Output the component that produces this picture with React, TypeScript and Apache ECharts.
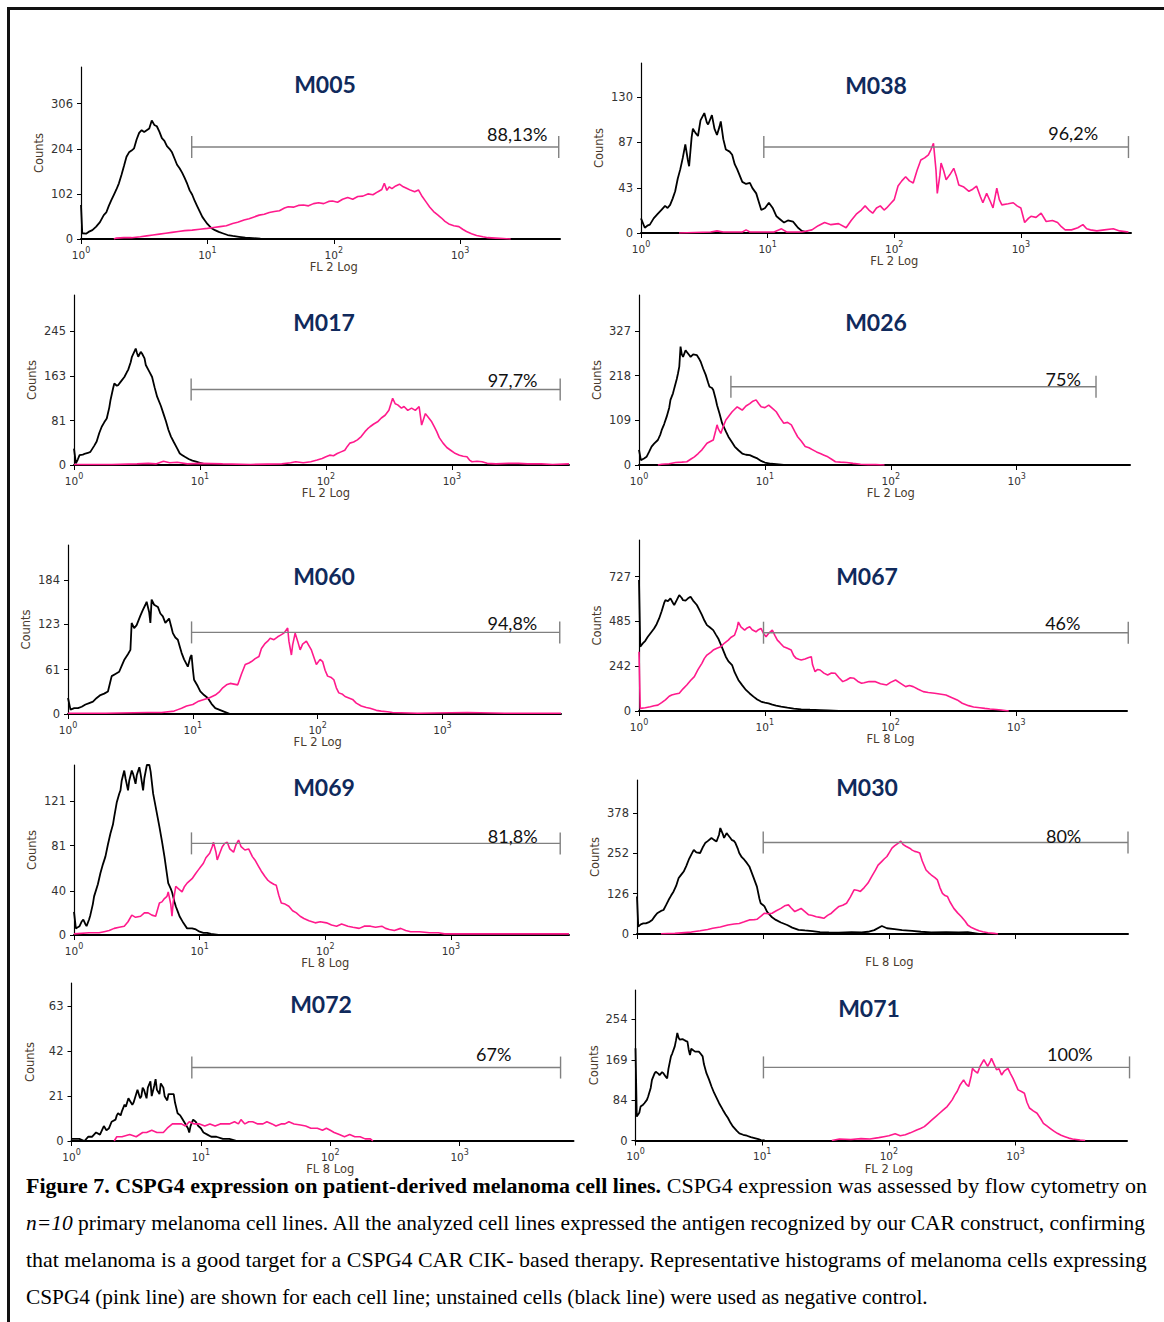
import React, { useEffect, useRef } from 'react';
import * as echarts from 'echarts';

// ---------- histogram data: [log10 fluorescence, counts] ----------
const M005_NEG = [[0,77],[0.01,13],[0.04,12],[0.06,16],[0.09,20],[0.12,28],[0.15,38],[0.18,54],[0.2,60],[0.22,75],[0.24,88],[0.26,100],[0.28,112],[0.3,126],[0.32,145],[0.34,165],[0.36,186],[0.38,196],[0.4,200],[0.42,205],[0.44,225],[0.46,240],[0.48,246],[0.5,242],[0.52,246],[0.54,250],[0.56,268],[0.58,258],[0.6,255],[0.62,243],[0.64,228],[0.66,222],[0.68,210],[0.7,204],[0.72,196],[0.74,182],[0.76,168],[0.78,160],[0.8,150],[0.82,138],[0.84,125],[0.86,110],[0.88,100],[0.9,86],[0.92,74],[0.94,62],[0.96,50],[0.98,42],[1.0,34],[1.03,25],[1.06,20],[1.09,16],[1.12,13],[1.16,9],[1.2,7],[1.25,5],[1.3,3],[1.36,2],[1.42,1],[1.5,0]];
const M005_POS = [[0.26,0],[0.28,2],[0.34,3],[0.4,3],[0.47,5],[0.52,7],[0.57,9],[0.62,11],[0.67,13],[0.72,15],[0.77,17],[0.82,19],[0.88,20],[0.94,22],[1.0,24],[1.05,26],[1.1,28],[1.15,30],[1.2,35],[1.24,38],[1.29,43],[1.33,46],[1.37,50],[1.41,54],[1.45,56],[1.49,60],[1.53,62],[1.57,64],[1.61,70],[1.64,73],[1.68,72],[1.72,76],[1.76,77],[1.8,75],[1.84,80],[1.88,82],[1.92,80],[1.96,85],[1.99,86],[2.03,83],[2.07,90],[2.11,94],[2.15,90],[2.19,96],[2.23,97],[2.27,102],[2.31,100],[2.35,107],[2.38,112],[2.4,126],[2.42,110],[2.44,118],[2.46,114],[2.49,120],[2.52,124],[2.55,118],[2.58,114],[2.61,110],[2.64,107],[2.67,111],[2.7,96],[2.73,84],[2.76,72],[2.79,62],[2.82,55],[2.85,48],[2.88,40],[2.91,34],[2.95,30],[2.99,28],[3.02,22],[3.05,17],[3.09,12],[3.13,8],[3.18,5],[3.22,3],[3.28,2],[3.34,1],[3.4,0]];
const M038_NEG = [[0,14],[0.03,5],[0.05,7],[0.07,8],[0.1,14],[0.13,18],[0.16,22],[0.19,26],[0.21,24],[0.23,27],[0.25,33],[0.27,40],[0.29,52],[0.31,61],[0.33,72],[0.35,85],[0.37,70],[0.38,64],[0.4,92],[0.41,100],[0.43,96],[0.45,93],[0.47,108],[0.5,115],[0.52,106],[0.53,104],[0.55,110],[0.56,113],[0.58,100],[0.6,94],[0.62,102],[0.63,107],[0.65,90],[0.67,80],[0.7,78],[0.72,75],[0.74,66],[0.76,61],[0.78,55],[0.8,49],[0.83,47],[0.86,48],[0.88,43],[0.91,38],[0.93,30],[0.95,22],[0.98,24],[1.01,29],[1.04,24],[1.07,16],[1.1,13],[1.13,10],[1.16,12],[1.2,11],[1.22,8],[1.24,5],[1.27,2],[1.33,0]];
const M038_POS = [[0.3,0],[0.55,1],[0.6,2],[0.65,1],[0.8,1],[0.83,3],[0.86,1],[1.05,1],[1.11,4],[1.15,1],[1.27,1],[1.35,3],[1.4,7],[1.45,10],[1.5,8],[1.56,9],[1.62,5],[1.66,12],[1.7,18],[1.74,22],[1.77,26],[1.8,22],[1.83,19],[1.86,24],[1.89,26],[1.92,22],[1.94,24],[1.97,28],[2.0,32],[2.03,45],[2.06,50],[2.09,54],[2.12,50],[2.15,48],[2.18,60],[2.21,70],[2.24,72],[2.27,75],[2.29,80],[2.31,86],[2.33,60],[2.34,38],[2.36,55],[2.37,67],[2.39,60],[2.41,51],[2.44,56],[2.47,62],[2.49,55],[2.51,46],[2.55,44],[2.59,40],[2.62,42],[2.65,45],[2.68,35],[2.7,29],[2.73,38],[2.76,30],[2.78,24],[2.81,43],[2.83,32],[2.85,27],[2.9,28],[2.94,29],[2.97,26],[3.0,24],[3.03,10],[3.06,14],[3.08,16],[3.12,15],[3.16,19],[3.2,11],[3.25,12],[3.29,10],[3.32,6],[3.35,3],[3.4,3],[3.45,5],[3.49,8],[3.52,4],[3.55,3],[3.6,2],[3.66,3],[3.73,4],[3.78,2],[3.85,1]];
const M017_NEG = [[0,30],[0.015,3],[0.03,10],[0.044,18],[0.07,19],[0.09,21],[0.11,22],[0.13,24],[0.16,35],[0.18,43],[0.2,58],[0.22,70],[0.24,78],[0.26,85],[0.28,105],[0.29,119],[0.31,140],[0.32,149],[0.34,145],[0.35,146],[0.37,152],[0.4,161],[0.42,170],[0.43,174],[0.45,188],[0.46,198],[0.48,208],[0.49,213],[0.5,205],[0.51,198],[0.53,207],[0.54,204],[0.56,195],[0.57,183],[0.6,170],[0.62,161],[0.64,142],[0.66,125],[0.69,108],[0.71,94],[0.73,80],[0.75,64],[0.77,52],[0.79,43],[0.82,30],[0.84,21],[0.86,18],[0.88,15],[0.91,11],[0.94,8],[0.97,6],[1.0,4],[1.03,2],[1.06,0]];
const M017_POS = [[0,1],[0.3,1],[0.5,2],[0.59,3],[0.65,2],[0.71,7],[0.76,4],[0.82,5],[0.9,2],[1.0,3],[1.18,2],[1.4,1],[1.65,2],[1.72,4],[1.76,6],[1.82,4],[1.88,6],[1.93,9],[1.97,12],[2.0,15],[2.03,18],[2.06,17],[2.09,21],[2.12,24],[2.15,27],[2.17,34],[2.19,40],[2.22,42],[2.25,46],[2.28,52],[2.31,61],[2.33,66],[2.35,70],[2.38,75],[2.41,79],[2.44,86],[2.47,91],[2.5,100],[2.53,122],[2.55,112],[2.57,110],[2.6,104],[2.62,107],[2.65,100],[2.68,104],[2.71,100],[2.74,107],[2.76,73],[2.79,94],[2.82,85],[2.84,79],[2.86,70],[2.88,61],[2.9,50],[2.93,40],[2.96,32],[2.99,27],[3.02,22],[3.06,18],[3.09,16],[3.12,15],[3.14,9],[3.16,6],[3.2,7],[3.24,6],[3.28,3],[3.35,2],[3.45,3],[3.53,3],[3.6,2],[3.71,2],[3.8,1],[3.93,2]];
const M026_NEG = [[0,37],[0.015,12],[0.04,16],[0.06,20],[0.08,32],[0.1,45],[0.12,52],[0.15,61],[0.17,75],[0.18,85],[0.2,100],[0.22,118],[0.24,140],[0.25,159],[0.27,175],[0.28,187],[0.3,210],[0.31,224],[0.32,240],[0.33,289],[0.34,270],[0.35,264],[0.37,280],[0.38,276],[0.4,268],[0.41,264],[0.43,270],[0.46,268],[0.48,258],[0.49,252],[0.51,235],[0.53,220],[0.55,200],[0.56,191],[0.58,188],[0.59,183],[0.61,160],[0.62,146],[0.64,125],[0.66,102],[0.69,82],[0.71,69],[0.74,55],[0.76,45],[0.79,36],[0.82,28],[0.85,25],[0.88,24],[0.91,20],[0.94,16],[0.97,10],[1.0,6],[1.05,3],[1.09,2],[1.15,0]];
const M026_POS = [[0.15,0],[0.18,2],[0.24,3],[0.29,6],[0.34,7],[0.38,8],[0.41,14],[0.44,20],[0.47,28],[0.5,37],[0.52,45],[0.54,53],[0.57,58],[0.59,61],[0.61,85],[0.62,98],[0.63,88],[0.65,77],[0.67,95],[0.69,110],[0.72,122],[0.74,130],[0.76,136],[0.78,142],[0.8,138],[0.82,134],[0.85,144],[0.88,150],[0.9,155],[0.93,159],[0.95,150],[0.97,142],[1.0,140],[1.03,146],[1.06,138],[1.09,130],[1.12,115],[1.15,102],[1.18,104],[1.21,98],[1.24,80],[1.26,69],[1.29,58],[1.32,45],[1.35,42],[1.38,37],[1.41,32],[1.44,28],[1.47,24],[1.5,20],[1.53,14],[1.56,8],[1.6,7],[1.65,6],[1.7,4],[1.76,2],[1.82,1],[1.88,1],[1.95,0]];
const M060_NEG = [[0,22],[0.02,6],[0.05,8],[0.08,8],[0.11,10],[0.14,13],[0.17,15],[0.2,17],[0.23,22],[0.26,26],[0.29,28],[0.32,31],[0.34,45],[0.35,52],[0.38,55],[0.41,58],[0.43,66],[0.45,74],[0.48,82],[0.5,88],[0.51,125],[0.53,118],[0.55,122],[0.58,135],[0.6,143],[0.62,150],[0.63,154],[0.65,140],[0.66,125],[0.67,157],[0.69,150],[0.72,147],[0.74,138],[0.76,134],[0.78,125],[0.81,131],[0.83,118],[0.84,111],[0.86,105],[0.88,102],[0.9,90],[0.91,84],[0.93,75],[0.96,65],[0.98,78],[0.99,81],[1.0,62],[1.01,47],[1.04,38],[1.06,31],[1.09,26],[1.12,22],[1.15,14],[1.18,8],[1.21,6],[1.24,4],[1.27,2],[1.3,0]];
const M060_POS = [[0,1],[0.3,1],[0.64,2],[0.75,2],[0.85,4],[0.88,6],[0.91,8],[0.95,11],[1.0,13],[1.04,17],[1.09,20],[1.13,22],[1.18,26],[1.21,30],[1.24,36],[1.27,40],[1.3,42],[1.33,41],[1.36,40],[1.39,55],[1.42,68],[1.45,70],[1.47,72],[1.5,76],[1.53,79],[1.55,90],[1.58,97],[1.6,100],[1.62,104],[1.65,102],[1.68,106],[1.7,108],[1.73,111],[1.76,118],[1.77,100],[1.79,81],[1.8,95],[1.82,111],[1.84,100],[1.86,88],[1.88,96],[1.91,100],[1.93,94],[1.95,88],[1.97,78],[1.99,68],[2.02,75],[2.04,72],[2.06,60],[2.08,52],[2.11,50],[2.13,47],[2.15,36],[2.17,29],[2.2,27],[2.22,24],[2.25,22],[2.28,20],[2.31,15],[2.35,11],[2.39,9],[2.42,8],[2.47,5],[2.51,4],[2.56,3],[2.6,2],[2.8,1],[3.2,2],[3.5,1],[3.95,1]];
const M067_NEG = [[0,709],[0.01,348],[0.03,366],[0.05,380],[0.07,402],[0.09,420],[0.12,447],[0.14,470],[0.16,501],[0.18,540],[0.2,585],[0.21,600],[0.23,595],[0.25,610],[0.27,585],[0.28,574],[0.3,600],[0.32,628],[0.34,612],[0.35,600],[0.37,598],[0.39,610],[0.41,619],[0.43,598],[0.46,574],[0.48,548],[0.5,520],[0.52,490],[0.54,465],[0.56,455],[0.59,438],[0.61,415],[0.63,393],[0.66,345],[0.69,294],[0.71,270],[0.74,249],[0.76,210],[0.79,168],[0.82,140],[0.85,114],[0.88,95],[0.91,78],[0.94,62],[0.97,51],[1.0,45],[1.03,41],[1.06,34],[1.09,29],[1.13,24],[1.18,18],[1.23,13],[1.29,9],[1.36,7],[1.44,5],[1.5,3],[1.59,0]];
const M067_POS = [[0,321],[0.01,14],[0.05,18],[0.09,23],[0.12,28],[0.15,32],[0.18,45],[0.21,60],[0.24,80],[0.26,87],[0.29,92],[0.32,96],[0.35,120],[0.38,141],[0.41,165],[0.44,186],[0.47,225],[0.5,258],[0.52,285],[0.54,303],[0.57,318],[0.59,330],[0.62,340],[0.65,348],[0.68,368],[0.71,384],[0.73,398],[0.76,411],[0.78,450],[0.79,482],[0.81,455],[0.84,438],[0.86,450],[0.88,456],[0.9,440],[0.93,429],[0.95,440],[0.97,447],[0.99,420],[1.01,402],[1.03,420],[1.06,438],[1.08,410],[1.1,384],[1.12,370],[1.15,348],[1.18,340],[1.21,330],[1.23,300],[1.25,285],[1.27,280],[1.29,276],[1.32,282],[1.35,290],[1.37,294],[1.38,250],[1.4,213],[1.42,225],[1.44,222],[1.47,205],[1.5,195],[1.53,206],[1.56,204],[1.59,180],[1.62,159],[1.65,168],[1.68,180],[1.71,177],[1.74,160],[1.77,150],[1.79,153],[1.83,160],[1.88,159],[1.92,148],[1.97,141],[2.0,155],[2.04,168],[2.08,150],[2.12,132],[2.15,138],[2.18,132],[2.22,118],[2.26,105],[2.3,100],[2.35,96],[2.39,92],[2.44,87],[2.48,75],[2.53,60],[2.57,42],[2.62,29],[2.66,22],[2.71,18],[2.75,14],[2.79,11],[2.84,8],[2.88,5],[2.94,0]];
const M069_NEG = [[0,21],[0.015,6],[0.03,7],[0.044,8],[0.06,12],[0.074,14],[0.09,10],[0.1,8],[0.12,14],[0.13,18],[0.15,28],[0.16,35],[0.19,46],[0.21,56],[0.23,64],[0.25,71],[0.27,82],[0.29,92],[0.31,100],[0.32,107],[0.34,120],[0.36,128],[0.37,131],[0.38,140],[0.4,149],[0.41,142],[0.43,131],[0.44,140],[0.46,149],[0.47,146],[0.49,137],[0.5,145],[0.52,152],[0.53,146],[0.55,131],[0.56,142],[0.58,154],[0.6,154],[0.61,148],[0.63,128],[0.65,116],[0.68,98],[0.7,85],[0.72,71],[0.74,55],[0.75,47],[0.77,42],[0.78,39],[0.8,30],[0.81,26],[0.83,20],[0.84,17],[0.86,13],[0.87,11],[0.9,6],[0.94,6],[0.97,5],[1.0,3],[1.03,2],[1.06,2],[1.09,1],[1.15,0]];
const M069_POS = [[0,1],[0.12,2],[0.2,2],[0.24,3],[0.28,4],[0.32,6],[0.36,7],[0.4,8],[0.43,12],[0.46,18],[0.49,16],[0.53,17],[0.56,20],[0.59,20],[0.62,18],[0.65,17],[0.68,29],[0.7,30],[0.72,33],[0.74,35],[0.75,39],[0.77,28],[0.78,17],[0.79,30],[0.81,44],[0.83,42],[0.86,39],[0.88,44],[0.9,47],[0.92,49],[0.94,51],[0.97,56],[0.99,59],[1.01,62],[1.03,65],[1.05,70],[1.08,74],[1.1,80],[1.11,84],[1.13,75],[1.14,68],[1.16,74],[1.18,80],[1.2,83],[1.22,84],[1.24,78],[1.27,75],[1.29,82],[1.31,86],[1.33,80],[1.36,77],[1.39,78],[1.42,71],[1.44,68],[1.47,62],[1.49,58],[1.52,53],[1.54,50],[1.56,48],[1.59,46],[1.61,45],[1.63,36],[1.65,29],[1.68,28],[1.71,26],[1.74,22],[1.77,20],[1.8,17],[1.83,15],[1.87,13],[1.92,11],[1.96,12],[2.01,11],[2.05,9],[2.09,8],[2.13,10],[2.18,8],[2.22,7],[2.27,6],[2.31,8],[2.36,8],[2.4,7],[2.45,8],[2.48,6],[2.51,5],[2.55,4],[2.6,6],[2.64,4],[2.68,3],[2.75,3],[2.83,2],[2.9,2],[2.95,1],[3.3,1],[3.94,1]];
const M030_NEG = [[0,117],[0.01,23],[0.03,30],[0.05,33],[0.07,33],[0.1,38],[0.12,44],[0.14,55],[0.16,65],[0.19,72],[0.21,75],[0.23,90],[0.25,106],[0.27,120],[0.29,133],[0.31,150],[0.33,175],[0.34,180],[0.36,190],[0.37,195],[0.39,212],[0.41,232],[0.43,248],[0.45,263],[0.47,255],[0.5,253],[0.52,270],[0.54,284],[0.56,290],[0.59,300],[0.61,294],[0.63,289],[0.65,310],[0.66,331],[0.68,312],[0.69,300],[0.71,315],[0.72,310],[0.74,300],[0.75,294],[0.77,290],[0.78,284],[0.8,265],[0.81,253],[0.83,240],[0.85,232],[0.87,222],[0.89,211],[0.92,180],[0.95,148],[0.97,110],[0.98,96],[1.0,90],[1.01,86],[1.03,70],[1.04,65],[1.07,52],[1.1,44],[1.14,36],[1.19,28],[1.23,20],[1.28,13],[1.33,11],[1.39,9],[1.45,6],[1.52,5],[1.6,4],[1.7,6],[1.78,5],[1.83,7],[1.88,12],[1.94,25],[1.98,18],[2.04,15],[2.1,12],[2.18,10],[2.25,7],[2.33,5],[2.45,6],[2.55,5],[2.62,6],[2.71,0]];
const M030_POS = [[0.19,1],[0.3,2],[0.43,6],[0.5,10],[0.56,14],[0.6,18],[0.66,22],[0.72,28],[0.77,31],[0.81,33],[0.85,38],[0.89,44],[0.93,45],[0.95,46],[0.98,55],[1.01,65],[1.04,63],[1.07,65],[1.1,72],[1.14,80],[1.17,88],[1.2,91],[1.22,82],[1.25,70],[1.28,76],[1.3,80],[1.33,70],[1.36,60],[1.39,58],[1.42,54],[1.45,52],[1.48,49],[1.51,58],[1.54,65],[1.57,76],[1.6,86],[1.63,90],[1.66,96],[1.69,115],[1.72,138],[1.75,136],[1.77,133],[1.8,145],[1.83,159],[1.86,180],[1.89,200],[1.91,215],[1.94,227],[1.96,235],[1.98,242],[2.0,255],[2.02,268],[2.04,275],[2.07,284],[2.09,290],[2.11,279],[2.13,274],[2.16,268],[2.18,262],[2.2,258],[2.22,256],[2.24,253],[2.26,228],[2.29,200],[2.31,192],[2.33,185],[2.36,176],[2.38,169],[2.4,145],[2.42,127],[2.44,120],[2.46,117],[2.48,100],[2.51,80],[2.54,66],[2.57,54],[2.6,40],[2.62,28],[2.65,20],[2.68,15],[2.71,10],[2.74,7],[2.78,4],[2.83,2],[2.86,0]];
const M072_NEG = [[0,1],[0.06,1],[0.1,0],[0.13,2],[0.16,2],[0.19,4],[0.22,3],[0.25,7],[0.27,5],[0.29,6],[0.31,9],[0.34,10],[0.35,12],[0.36,13],[0.38,12],[0.39,14],[0.41,17],[0.42,16],[0.44,20],[0.45,19],[0.47,17],[0.48,18],[0.5,22],[0.51,24],[0.53,20],[0.54,21],[0.55,25],[0.56,24],[0.58,20],[0.59,25],[0.61,28],[0.62,21],[0.64,26],[0.65,29],[0.66,24],[0.68,22],[0.69,27],[0.71,25],[0.72,21],[0.74,19],[0.75,22],[0.77,22],[0.79,22],[0.8,18],[0.82,13],[0.84,12],[0.85,11],[0.87,9],[0.88,8],[0.9,6],[0.91,4],[0.92,7],[0.94,10],[0.96,9],[0.98,7],[1.0,6],[1.02,4],[1.05,3],[1.08,2],[1.12,2],[1.17,1],[1.22,1],[1.28,0]];
const M072_POS = [[0.33,0],[0.35,2],[0.39,2],[0.45,3],[0.5,2],[0.55,4],[0.58,4],[0.62,5],[0.66,4],[0.71,4],[0.74,6],[0.78,8],[0.82,8],[0.85,8],[0.88,7],[0.91,9],[0.95,8],[0.99,8],[1.03,7],[1.07,8],[1.11,7],[1.15,8],[1.19,8],[1.22,8],[1.26,9],[1.29,8],[1.31,10],[1.34,8],[1.37,9],[1.4,9],[1.44,8],[1.48,8],[1.51,9],[1.55,8],[1.58,7],[1.62,8],[1.65,8],[1.68,9],[1.72,8],[1.77,7.5],[1.81,7],[1.85,6],[1.9,6],[1.94,5],[1.97,6],[2.0,5],[2.03,4],[2.07,3],[2.11,2],[2.15,3],[2.19,2],[2.23,2],[2.27,1],[2.31,1],[2.33,0]];
const M071_NEG = [[0,193],[0.01,50],[0.03,58],[0.04,71],[0.06,75],[0.07,78],[0.09,85],[0.1,92],[0.12,110],[0.13,127],[0.15,140],[0.16,144],[0.18,140],[0.19,137],[0.21,143],[0.22,141],[0.24,133],[0.25,130],[0.26,150],[0.28,176],[0.29,182],[0.31,197],[0.32,210],[0.33,225],[0.34,215],[0.35,211],[0.37,212],[0.38,211],[0.4,208],[0.41,207],[0.42,190],[0.43,179],[0.44,192],[0.45,190],[0.47,186],[0.5,186],[0.51,183],[0.53,176],[0.54,160],[0.56,141],[0.58,128],[0.6,113],[0.62,100],[0.64,89],[0.66,78],[0.69,64],[0.71,55],[0.73,47],[0.75,37],[0.77,29],[0.8,20],[0.82,15],[0.85,12],[0.88,10],[0.91,7],[0.94,5],[0.97,3],[0.99,1],[1.02,0]];
const M071_POS = [[1.55,0],[1.61,3],[1.7,2],[1.78,4],[1.85,3],[1.92,6],[1.96,8],[2.0,10],[2.05,14],[2.09,10],[2.13,12],[2.17,16],[2.22,22],[2.25,25],[2.28,29],[2.31,36],[2.34,43],[2.37,50],[2.4,57],[2.43,64],[2.46,71],[2.48,78],[2.5,85],[2.52,95],[2.54,103],[2.56,115],[2.59,127],[2.61,118],[2.63,113],[2.65,135],[2.66,151],[2.68,145],[2.7,141],[2.72,155],[2.75,169],[2.77,160],[2.78,155],[2.8,165],[2.81,172],[2.83,160],[2.85,148],[2.87,150],[2.89,137],[2.91,145],[2.94,151],[2.96,140],[2.98,130],[3.0,118],[3.02,106],[3.05,102],[3.07,99],[3.09,80],[3.11,68],[3.14,62],[3.17,57],[3.2,45],[3.22,36],[3.25,30],[3.27,26],[3.3,20],[3.33,15],[3.36,11],[3.39,8],[3.42,5],[3.45,3],[3.51,1],[3.55,0]];

// ---------- panel values ----------
const TITLES = ['M005', 'M038', 'M017', 'M026', 'M060', 'M067', 'M069', 'M030', 'M072', 'M071'];
const NEGATIVE = [M005_NEG, M038_NEG, M017_NEG, M026_NEG, M060_NEG, M067_NEG, M069_NEG, M030_NEG, M072_NEG, M071_NEG];
const POSITIVE = [M005_POS, M038_POS, M017_POS, M026_POS, M060_POS, M067_POS, M069_POS, M030_POS, M072_POS, M071_POS];
const Y_TICKS = [[0, 102, 204, 306], [0, 43, 87, 130], [0, 81, 163, 245], [0, 109, 218, 327], [0, 61, 123, 184], [0, 242, 485, 727], [0, 40, 81, 121], [0, 126, 252, 378], [0, 21, 42, 63], [0, 84, 169, 254]];
const Y_MAX = [389, 163, 311, 415, 232, 926, 154, 481, 74, 315];
const X_DECADES = [3.79, 3.87, 3.93, 3.9, 3.95, 3.88, 3.94, 3.89, 3.88, 3.88];
const X_TICKS = [1, 10, 100, 1000];
const X_NAMES = ['FL 2 Log', 'FL 2 Log', 'FL 2 Log', 'FL 2 Log', 'FL 2 Log', 'FL 8 Log', 'FL 8 Log', 'FL 8 Log', 'FL 8 Log', 'FL 2 Log'];
const X_TICK_LABELS = [true, true, true, true, true, true, true, false, true, true];
const GATE_FROM = [0.876, 0.97, 0.93, 0.73, 0.99, 0.99, 0.935, 1.0, 0.93, 1.01];
const GATE_TO = [3.78, 3.85, 3.86, 3.63, 3.94, 3.89, 3.87, 3.89, 3.78, 3.9];
const GATE_LEVEL = [208, 82.4, 138, 191, 112, 424, 83, 286, 34.4, 153];
const GATE_PCT = ['88,13%', '96,2%', '97,7%', '75%', '94,8%', '46%', '81,8%', '80%', '67%', '100%'];
const PCT_AT = [[3.69, 237], [3.61, 95.5], [3.68, 155], [3.51, 209], [3.76, 125], [3.51, 474], [3.69, 89.4], [3.52, 307], [3.4, 40.8], [3.61, 181.5]];

const CAPTION = [
  [{ t: 'Figure 7. CSPG4 expression on patient-derived melanoma cell lines.', k: 'b' }, { t: ' CSPG4 expression was assessed by flow cytometry on', k: 'r' }],
  [{ t: 'n=10', k: 'i' }, { t: ' primary melanoma cell lines. All the analyzed cell lines expressed the antigen recognized by our CAR construct, confirming', k: 'r' }],
  [{ t: 'that melanoma is a good target for a CSPG4 CAR CIK- based therapy. Representative histograms of melanoma cells expressing', k: 'r' }],
  [{ t: 'CSPG4 (pink line) are shown for each cell line; unstained cells (black line) were used as negative control.', k: 'r' }],
];

// ---------- layout (pixels) ----------
const LAYOUT = [
  { left: 81, top: 67, width: 479, height: 172, tx: 325, ty: 84 },
  { left: 641, top: 63, width: 490, height: 170, tx: 876, ty: 85 },
  { left: 74, top: 295, width: 495, height: 170, tx: 324, ty: 322 },
  { left: 639, top: 295, width: 491, height: 170, tx: 876, ty: 322 },
  { left: 68, top: 545, width: 493, height: 169, tx: 324, ty: 576 },
  { left: 639, top: 540, width: 488, height: 171, tx: 867, ty: 576 },
  { left: 74, top: 765, width: 495, height: 170, tx: 324, ty: 787 },
  { left: 637, top: 780, width: 491, height: 154, tx: 867, ty: 787 },
  { left: 71.5, top: 983, width: 502, height: 158, tx: 321, ty: 1004 },
  { left: 635.5, top: 990, width: 491.5, height: 150.5, tx: 869, ty: 1008 },
];
const CAPTION_Y = [1186, 1223, 1260, 1297];
const CAPTION_X = 26;
const CAPTION_W = [1121, 1121, 1121, 902];

const PINK = '#ff1a8c';
const NAVY = '#102a5c';
const TICK_FONT = 'DejaVu Sans';

function toXY(pts: number[][]) {
  return pts.map(([d, c]) => [Math.pow(10, d), c]);
}

function measureCaption(parts: { t: string; k: string }[]) {
  const ctx = document.createElement('canvas').getContext('2d')!;
  let w = 0;
  for (const p of parts) {
    const style = p.k === 'b' ? 'bold ' : p.k === 'i' ? 'italic ' : '';
    ctx.font = `${style}20px "Liberation Serif"`;
    w += ctx.measureText(p.t).width;
  }
  return w;
}

function buildOption() {
  const grid: any[] = [];
  const xAxis: any[] = [];
  const yAxis: any[] = [];
  const series: any[] = [];
  const graphic: any[] = [];

  TITLES.forEach((title, i) => {
    const L = LAYOUT[i];
    grid.push({ left: L.left, top: L.top, width: L.width, height: L.height, containLabel: false });
    const showLabels = X_TICK_LABELS[i];
    const name = X_NAMES[i];
    xAxis.push({
      gridIndex: i,
      type: 'log',
      logBase: 10,
      min: 1,
      max: Math.pow(10, X_DECADES[i]),
      axisLine: { show: true, lineStyle: { color: '#000', width: 2 } },
      axisTick: { show: true, length: 5, customValues: X_TICKS, lineStyle: { color: '#000', width: 1 } },
      minorTick: { show: false },
      splitLine: { show: false },
      axisLabel: {
        show: true,
        customValues: X_TICKS,
        margin: 7,
        formatter: (v: number) => {
          const lg = Math.log10(v);
          const e = Math.round(lg);
          if (Math.abs(lg - e) > 1e-6 || e < 0 || e > 3) return '';
          const t = showLabels ? `{b|10}{s|${e}}` : '{b| }';
          if (e === 2) return `${t}\n{n|${name}}`;
          return showLabels ? t : '';
        },
        rich: {
          b: { fontFamily: TICK_FONT, fontSize: 10.5, color: '#333', lineHeight: 14, verticalAlign: 'bottom' },
          s: { fontFamily: TICK_FONT, fontSize: 8, color: '#333', lineHeight: 9, verticalAlign: 'top' },
          n: { fontFamily: TICK_FONT, fontSize: 11.5, color: '#4a3b2d', lineHeight: 14 },
        },
      },
    });
    yAxis.push({
      gridIndex: i,
      type: 'value',
      min: 0,
      max: Y_MAX[i],
      axisLine: { show: true, lineStyle: { color: '#000', width: 1.2 } },
      axisTick: { show: true, length: 4, customValues: Y_TICKS[i], lineStyle: { color: '#000', width: 1 } },
      axisLabel: { show: true, customValues: Y_TICKS[i], margin: 8, fontFamily: TICK_FONT, fontSize: 11.5, color: '#333' },
      splitLine: { show: false },
      name: 'Counts',
      nameLocation: 'middle',
      nameGap: 36,
      nameTextStyle: { fontFamily: TICK_FONT, fontSize: 11.5, color: '#4a3b2d' },
    });
    series.push({
      type: 'line', xAxisIndex: i, yAxisIndex: i, data: toXY(NEGATIVE[i]),
      showSymbol: false, symbol: 'none', silent: true, z: 3,
      lineStyle: { color: '#000', width: 1.8 },
    });
    series.push({
      type: 'line', xAxisIndex: i, yAxisIndex: i, data: toXY(POSITIVE[i]),
      showSymbol: false, symbol: 'none', silent: true, z: 4,
      lineStyle: { color: PINK, width: 1.6 },
    });
    const label = GATE_PCT[i];
    series.push({
      type: 'custom', xAxisIndex: i, yAxisIndex: i, silent: true, z: 5,
      data: [[Math.pow(10, GATE_FROM[i]), Math.pow(10, GATE_TO[i]), GATE_LEVEL[i], Math.pow(10, PCT_AT[i][0]), PCT_AT[i][1]]],
      renderItem: (params: any, api: any) => {
        const p1 = api.coord([api.value(0), api.value(2)]);
        const p2 = api.coord([api.value(1), api.value(2)]);
        const pl = api.coord([api.value(3), api.value(4)]);
        const st = { stroke: '#808080', lineWidth: 1.4 };
        return {
          type: 'group',
          children: [
            { type: 'line', shape: { x1: p1[0], y1: p1[1], x2: p2[0], y2: p2[1] }, style: st },
            { type: 'line', shape: { x1: p1[0], y1: p1[1] - 11, x2: p1[0], y2: p1[1] + 11 }, style: st },
            { type: 'line', shape: { x1: p2[0], y1: p2[1] - 11, x2: p2[0], y2: p2[1] + 11 }, style: st },
            {
              type: 'text', x: pl[0], y: pl[1],
              style: { text: label, fontFamily: 'Lato', fontSize: 18, fill: '#111', align: 'right', verticalAlign: 'middle' },
            },
          ],
        };
      },
    });
    graphic.push({
      type: 'text', x: L.tx, y: L.ty, silent: true,
      style: { text: title, fontFamily: 'Lato', fontWeight: 'bold', fontSize: 23, fill: NAVY, align: 'center', verticalAlign: 'middle' },
    });
  });

  // frame
  graphic.push({ type: 'line', silent: true, shape: { x1: 7, y1: 8.5, x2: 1164, y2: 8.5 }, style: { stroke: '#111', lineWidth: 3 } });
  graphic.push({ type: 'line', silent: true, shape: { x1: 8.5, y1: 7, x2: 8.5, y2: 1322 }, style: { stroke: '#111', lineWidth: 3 } });

  // caption
  CAPTION.forEach((parts, li) => {
    const natural = measureCaption(parts);
    const scaleX = natural > 0 ? CAPTION_W[li] / natural : 1;
    const text = parts.map((p) => (p.k === 'r' ? p.t : `{${p.k}|${p.t}}`)).join('');
    graphic.push({
      type: 'text', x: CAPTION_X, y: CAPTION_Y[li], scaleX, silent: true,
      style: {
        text,
        fontFamily: 'Liberation Serif', fontSize: 20, fill: '#000',
        align: 'left', verticalAlign: 'middle',
        rich: {
          b: { fontFamily: 'Liberation Serif', fontSize: 20, fontWeight: 'bold', fill: '#000' },
          i: { fontFamily: 'Liberation Serif', fontSize: 20, fontStyle: 'italic', fill: '#000' },
        },
      },
    });
  });

  return {
    animation: false,
    backgroundColor: '#fff',
    grid, xAxis, yAxis, series, graphic,
  };
}

export default function App() {
  const ref = useRef<HTMLDivElement>(null);
  useEffect(() => {
    const el = ref.current!;
    const chart = echarts.init(el, null, { renderer: 'svg' });
    chart.setOption(buildOption() as any);
    return () => chart.dispose();
  }, []);
  return (
    <div
      ref={ref}
      style={{ position: 'fixed', left: 0, top: 0, width: 1164, height: 1322, background: '#fff' }}
    />
  );
}
